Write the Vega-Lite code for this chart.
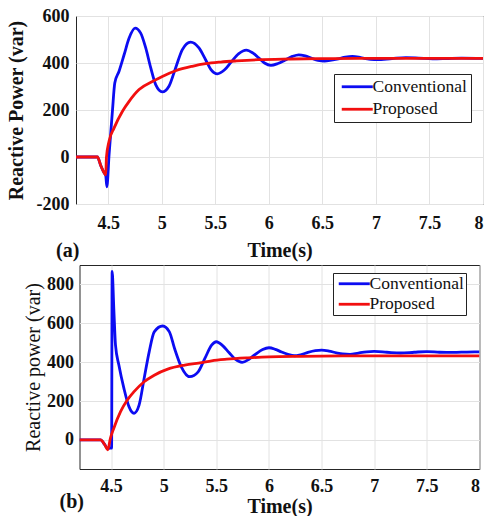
{
  "$schema": "https://vega.github.io/schema/vega-lite/v6.json",
  "padding": {"left": 5, "top": 6, "right": 0, "bottom": 0},
  "autosize": {"type": "pad"},
  "background": "white",
  "config": {
    "font": "Liberation Serif",
    "view": {"stroke": "#262626", "strokeWidth": 1},
    "axis": {
      "grid": true, "gridColor": "#e2e2e2", "gridWidth": 1, "domain": false, "ticks": false,
      "labelFont": "Liberation Serif", "labelFontWeight": "bold", "labelFontSize": 18, "labelColor": "#111",
      "titleFont": "Liberation Serif", "titleFontSize": 20, "titleColor": "#111", "titleFontWeight": "bold"
    },
    "legend": {
      "symbolType": "M-1,0H5.2", "symbolSize": 100, "symbolStrokeWidth": 2.8,
      "labelFont": "Liberation Serif", "labelFontSize": 17.5, "labelFontWeight": "normal", "labelColor": "#111",
      "strokeColor": "#222", "fillColor": "white", "cornerRadius": 0, "labelOffset": 17, "labelLimit": 300
    }
  },
  "datasets": {
    "a": [
      {"series": "Conventional", "time": 4.2, "power": 0},
      {"series": "Conventional", "time": 4.4, "power": 0},
      {"series": "Conventional", "time": 4.43, "power": -35},
      {"series": "Conventional", "time": 4.46, "power": -65},
      {"series": "Conventional", "time": 4.478, "power": -80},
      {"series": "Conventional", "time": 4.488, "power": -127},
      {"series": "Conventional", "time": 4.509, "power": 11},
      {"series": "Conventional", "time": 4.54, "power": 195},
      {"series": "Conventional", "time": 4.562, "power": 315},
      {"series": "Conventional", "time": 4.602, "power": 365},
      {"series": "Conventional", "time": 4.649, "power": 435},
      {"series": "Conventional", "time": 4.696, "power": 506},
      {"series": "Conventional", "time": 4.752, "power": 548},
      {"series": "Conventional", "time": 4.804, "power": 527},
      {"series": "Conventional", "time": 4.851, "power": 464},
      {"series": "Conventional", "time": 4.898, "power": 379},
      {"series": "Conventional", "time": 4.944, "power": 308},
      {"series": "Conventional", "time": 5.006, "power": 277},
      {"series": "Conventional", "time": 5.068, "power": 301},
      {"series": "Conventional", "time": 5.13, "power": 379},
      {"series": "Conventional", "time": 5.193, "power": 457},
      {"series": "Conventional", "time": 5.27, "power": 489},
      {"series": "Conventional", "time": 5.348, "power": 464},
      {"series": "Conventional", "time": 5.41, "power": 414},
      {"series": "Conventional", "time": 5.46, "power": 372},
      {"series": "Conventional", "time": 5.52, "power": 354},
      {"series": "Conventional", "time": 5.585, "power": 370},
      {"series": "Conventional", "time": 5.65, "power": 405},
      {"series": "Conventional", "time": 5.72, "power": 440},
      {"series": "Conventional", "time": 5.79, "power": 455},
      {"series": "Conventional", "time": 5.85, "power": 443},
      {"series": "Conventional", "time": 5.905, "power": 422},
      {"series": "Conventional", "time": 5.96, "power": 400},
      {"series": "Conventional", "time": 6.02, "power": 390},
      {"series": "Conventional", "time": 6.085, "power": 398},
      {"series": "Conventional", "time": 6.15, "power": 412},
      {"series": "Conventional", "time": 6.22, "power": 428},
      {"series": "Conventional", "time": 6.28, "power": 435},
      {"series": "Conventional", "time": 6.34, "power": 430},
      {"series": "Conventional", "time": 6.4, "power": 420},
      {"series": "Conventional", "time": 6.46, "power": 411},
      {"series": "Conventional", "time": 6.52, "power": 408},
      {"series": "Conventional", "time": 6.585, "power": 412},
      {"series": "Conventional", "time": 6.65, "power": 418},
      {"series": "Conventional", "time": 6.715, "power": 425},
      {"series": "Conventional", "time": 6.78, "power": 428},
      {"series": "Conventional", "time": 6.84, "power": 425},
      {"series": "Conventional", "time": 6.89, "power": 420},
      {"series": "Conventional", "time": 6.95, "power": 416},
      {"series": "Conventional", "time": 7.01, "power": 414},
      {"series": "Conventional", "time": 7.15, "power": 419},
      {"series": "Conventional", "time": 7.28, "power": 423},
      {"series": "Conventional", "time": 7.4, "power": 421},
      {"series": "Conventional", "time": 7.53, "power": 418},
      {"series": "Conventional", "time": 7.65, "power": 419},
      {"series": "Conventional", "time": 7.8, "power": 421},
      {"series": "Conventional", "time": 8.0, "power": 420},
      {"series": "Proposed", "time": 4.2, "power": 0},
      {"series": "Proposed", "time": 4.4, "power": 0},
      {"series": "Proposed", "time": 4.43, "power": -35},
      {"series": "Proposed", "time": 4.46, "power": -65},
      {"series": "Proposed", "time": 4.478, "power": -76},
      {"series": "Proposed", "time": 4.484, "power": -3},
      {"series": "Proposed", "time": 4.509, "power": 68},
      {"series": "Proposed", "time": 4.556, "power": 124},
      {"series": "Proposed", "time": 4.634, "power": 195},
      {"series": "Proposed", "time": 4.696, "power": 237},
      {"series": "Proposed", "time": 4.789, "power": 287},
      {"series": "Proposed", "time": 4.929, "power": 325},
      {"series": "Proposed", "time": 5.006, "power": 343},
      {"series": "Proposed", "time": 5.13, "power": 367},
      {"series": "Proposed", "time": 5.286, "power": 386},
      {"series": "Proposed", "time": 5.41, "power": 397},
      {"series": "Proposed", "time": 5.55, "power": 404},
      {"series": "Proposed", "time": 5.7, "power": 409},
      {"series": "Proposed", "time": 5.9, "power": 414},
      {"series": "Proposed", "time": 6.2, "power": 417},
      {"series": "Proposed", "time": 6.6, "power": 419},
      {"series": "Proposed", "time": 7.0, "power": 420},
      {"series": "Proposed", "time": 8.0, "power": 420}
    ],
    "b": [
      {"series": "Conventional", "time": 4.2, "power": 0},
      {"series": "Conventional", "time": 4.4, "power": 0},
      {"series": "Conventional", "time": 4.44, "power": -25},
      {"series": "Conventional", "time": 4.468, "power": -45},
      {"series": "Conventional", "time": 4.49, "power": -43},
      {"series": "Conventional", "time": 4.505, "power": -43},
      {"series": "Conventional", "time": 4.51, "power": 867},
      {"series": "Conventional", "time": 4.526, "power": 675},
      {"series": "Conventional", "time": 4.542, "power": 487},
      {"series": "Conventional", "time": 4.574, "power": 385},
      {"series": "Conventional", "time": 4.622, "power": 265},
      {"series": "Conventional", "time": 4.67, "power": 171},
      {"series": "Conventional", "time": 4.718, "power": 137},
      {"series": "Conventional", "time": 4.766, "power": 179},
      {"series": "Conventional", "time": 4.814, "power": 316},
      {"series": "Conventional", "time": 4.862, "power": 453},
      {"series": "Conventional", "time": 4.91, "power": 556},
      {"series": "Conventional", "time": 4.99, "power": 586},
      {"series": "Conventional", "time": 5.054, "power": 556},
      {"series": "Conventional", "time": 5.103, "power": 470},
      {"series": "Conventional", "time": 5.167, "power": 376},
      {"series": "Conventional", "time": 5.247, "power": 325},
      {"series": "Conventional", "time": 5.327, "power": 350},
      {"series": "Conventional", "time": 5.391, "power": 419},
      {"series": "Conventional", "time": 5.455, "power": 487},
      {"series": "Conventional", "time": 5.5, "power": 505},
      {"series": "Conventional", "time": 5.56, "power": 485},
      {"series": "Conventional", "time": 5.62, "power": 450},
      {"series": "Conventional", "time": 5.68, "power": 415},
      {"series": "Conventional", "time": 5.745, "power": 399},
      {"series": "Conventional", "time": 5.81, "power": 415},
      {"series": "Conventional", "time": 5.87, "power": 440},
      {"series": "Conventional", "time": 5.94, "power": 465},
      {"series": "Conventional", "time": 6.0, "power": 474},
      {"series": "Conventional", "time": 6.06, "power": 466},
      {"series": "Conventional", "time": 6.12, "power": 452},
      {"series": "Conventional", "time": 6.18, "power": 440},
      {"series": "Conventional", "time": 6.24, "power": 433},
      {"series": "Conventional", "time": 6.3, "power": 438},
      {"series": "Conventional", "time": 6.37, "power": 450},
      {"series": "Conventional", "time": 6.44, "power": 459},
      {"series": "Conventional", "time": 6.5, "power": 462},
      {"series": "Conventional", "time": 6.57, "power": 457},
      {"series": "Conventional", "time": 6.64, "power": 448},
      {"series": "Conventional", "time": 6.7, "power": 442},
      {"series": "Conventional", "time": 6.77, "power": 440},
      {"series": "Conventional", "time": 6.85, "power": 447},
      {"series": "Conventional", "time": 6.93, "power": 453},
      {"series": "Conventional", "time": 7.0, "power": 455},
      {"series": "Conventional", "time": 7.12, "power": 451},
      {"series": "Conventional", "time": 7.25, "power": 447},
      {"series": "Conventional", "time": 7.38, "power": 451},
      {"series": "Conventional", "time": 7.5, "power": 454},
      {"series": "Conventional", "time": 7.62, "power": 451},
      {"series": "Conventional", "time": 7.75, "power": 450},
      {"series": "Conventional", "time": 7.88, "power": 452},
      {"series": "Conventional", "time": 8.0, "power": 453},
      {"series": "Proposed", "time": 4.2, "power": 0},
      {"series": "Proposed", "time": 4.4, "power": 0},
      {"series": "Proposed", "time": 4.44, "power": -25},
      {"series": "Proposed", "time": 4.468, "power": -51},
      {"series": "Proposed", "time": 4.494, "power": 9},
      {"series": "Proposed", "time": 4.526, "power": 60},
      {"series": "Proposed", "time": 4.59, "power": 145},
      {"series": "Proposed", "time": 4.654, "power": 205},
      {"series": "Proposed", "time": 4.718, "power": 248},
      {"series": "Proposed", "time": 4.814, "power": 299},
      {"series": "Proposed", "time": 4.91, "power": 333},
      {"series": "Proposed", "time": 5.038, "power": 364},
      {"series": "Proposed", "time": 5.199, "power": 385},
      {"series": "Proposed", "time": 5.359, "power": 398},
      {"series": "Proposed", "time": 5.455, "power": 407},
      {"series": "Proposed", "time": 5.6, "power": 415},
      {"series": "Proposed", "time": 5.8, "power": 422},
      {"series": "Proposed", "time": 6.0, "power": 427},
      {"series": "Proposed", "time": 6.3, "power": 430},
      {"series": "Proposed", "time": 6.7, "power": 432},
      {"series": "Proposed", "time": 7.2, "power": 432},
      {"series": "Proposed", "time": 8.0, "power": 432}
    ]
  },
  "spacing": 61,
  "bounds": "flush",
  "center": true,
  "resolve": {"scale": {"color": "independent"}, "legend": {"color": "independent"}},
  "vconcat": [
    {
      "width": 407,
      "height": 188,
      "data": {"name": "a"},
      "title": {"text": "(a)", "orient": "bottom", "anchor": "start", "frame": "group", "offset": -19, "dx": -20, "fontSize": 20, "fontWeight": "bold", "font": "Liberation Serif", "color": "#111"},
      "mark": {"type": "line", "strokeWidth": 2.8, "interpolate": "monotone", "clip": true},
      "encoding": {
        "x": {"field": "time", "type": "quantitative", "scale": {"domain": [4.2, 8], "nice": false, "zero": false},
              "axis": {"values": [4.5, 5, 5.5, 6, 6.5, 7, 7.5, 8], "format": "~g", "title": "Time(s)", "labelPadding": 10, "titlePadding": 8}},
        "y": {"field": "power", "type": "quantitative", "scale": {"domain": [-200, 600], "nice": false},
              "axis": {"values": [-200, 0, 200, 400, 600], "labelExpr": "datum.value < 0 ? '-' + (-datum.value) : '' + datum.value", "title": "Reactive Power (var)", "labelPadding": 7, "titlePadding": 10}},
        "color": {"field": "series", "type": "nominal", "scale": {"domain": ["Conventional", "Proposed"], "range": ["#0c0cf2", "#f20f0f"]},
                  "legend": {"orient": "none", "legendX": 258, "legendY": 58, "title": null, "padding": 4, "rowPadding": 3.5}}
      }
    },
    {
      "width": 400,
      "height": 204,
      "data": {"name": "b"},
      "title": {"text": "(b)", "orient": "bottom", "anchor": "start", "frame": "group", "offset": -24, "dx": -20, "fontSize": 20, "fontWeight": "bold", "font": "Liberation Serif", "color": "#111"},
      "mark": {"type": "line", "strokeWidth": 2.8, "interpolate": "monotone", "clip": true},
      "encoding": {
        "x": {"field": "time", "type": "quantitative", "scale": {"domain": [4.2, 8], "nice": false, "zero": false},
              "axis": {"values": [4.5, 5, 5.5, 6, 6.5, 7, 7.5, 8], "format": "~g", "title": "Time(s)", "labelPadding": 8, "titlePadding": 1}},
        "y": {"field": "power", "type": "quantitative", "scale": {"domain": [-150, 900], "nice": false},
              "axis": {"values": [0, 200, 400, 600, 800], "format": "d", "title": "Reactive power (var)", "titleFontWeight": "normal", "labelPadding": 6, "titlePadding": 3}},
        "color": {"field": "series", "type": "nominal", "scale": {"domain": ["Conventional", "Proposed"], "range": ["#0c0cf2", "#f20f0f"]},
                  "legend": {"orient": "none", "legendX": 253.5, "legendY": 8, "title": null, "padding": 2, "rowPadding": 1.5}}
      }
    }
  ]
}
